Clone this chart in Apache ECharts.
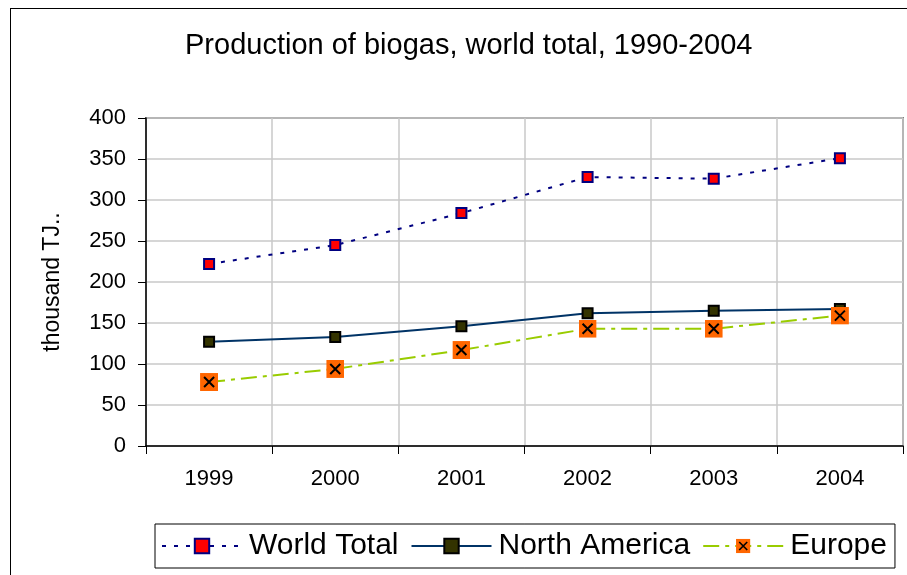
<!DOCTYPE html>
<html>
<head>
<meta charset="utf-8">
<script src="https://cdn.jsdelivr.net/npm/echarts@6/dist/echarts.min.js"></script>
<style>
  html, body { margin: 0; padding: 0; background: #fff; }
  #frame { position: absolute; left: 10px; top: 8px; width: 920px; height: 600px; border: 1px solid #000; box-sizing: border-box; }
  #main { position: absolute; left: 0; top: 0; width: 907px; height: 575px; }
</style>
</head>
<body>
<div id="frame"></div>
<div id="main"></div>
<script>
// data
var years = ['1999', '2000', '2001', '2002', '2003', '2004'];
var worldTotal = [222, 245, 284, 328, 326, 351];
var northAmerica = [127, 133, 146, 162, 165, 167];
var europe = [78, 94, 117, 143, 143, 159];

// orange square with a black cross for Europe
var crossSvg = '<svg xmlns="http://www.w3.org/2000/svg" width="18" height="18">' +
    '<rect x="0" y="0" width="18" height="18" fill="#ff6600"/>' +
    '<path d="M4 4 L14 14 M14 4 L4 14" stroke="#000" stroke-width="2"/></svg>';
var crossSymbol = 'image://data:image/svg+xml;charset=utf-8,' + encodeURIComponent(crossSvg);

var myChart = echarts.init(document.getElementById('main'));
var font = 'Liberation Sans, Arial, sans-serif';

myChart.setOption({
    backgroundColor: 'transparent',
    animation: false,
    title: {
        text: 'Production of biogas, world total, 1990-2004',
        left: 180,
        top: 26,
        textStyle: { fontFamily: font, fontSize: 29, fontWeight: 'normal', color: '#000' }
    },
    grid: {
        left: 146, top: 118, right: 4, bottom: 129,
        show: true, borderColor: '#808080', borderWidth: 2, backgroundColor: '#fff'
    },
    legend: {
        left: 155,
        top: 524,
        padding: [7, 8, 7, 6],
        borderColor: '#000',
        borderWidth: 1,
        itemWidth: 80,
        itemHeight: 18,
        itemGap: 12,
        textStyle: { fontFamily: font, fontSize: 30, color: '#000', padding: [0, 0, 0, 2] },
        data: ['World Total', 'North America', 'Europe']
    },
    xAxis: {
        type: 'category',
        data: years,
        boundaryGap: true,
        axisLine: { lineStyle: { color: '#000', width: 1.5 } },
        axisTick: { show: true, length: 8, lineStyle: { color: '#000' } },
        axisLabel: { fontFamily: font, fontSize: 22, color: '#000', margin: 22 },
        splitLine: { show: true, lineStyle: { color: '#c8c8c8', width: 1.5 } }
    },
    yAxis: {
        type: 'value',
        min: 0, max: 400, interval: 50,
        name: 'thousand TJ..',
        nameLocation: 'middle',
        nameGap: 82,
        nameTextStyle: { fontFamily: font, fontSize: 23, color: '#000' },
        axisLine: { show: true, lineStyle: { color: '#000', width: 1.5 } },
        axisTick: { show: true, inside: false, length: 8, lineStyle: { color: '#000' } },
        axisLabel: { fontFamily: font, fontSize: 22, color: '#000', margin: 20 },
        splitLine: { show: true, lineStyle: { color: '#c8c8c8', width: 1.5 } }
    },
    series: [
        {
            name: 'World Total',
            type: 'line',
            data: worldTotal,
            symbol: 'rect',
            symbolSize: 10,
            lineStyle: { color: '#000080', width: 2, type: [4, 8] },
            itemStyle: { color: '#ff0000', borderColor: '#000080', borderWidth: 2 }
        },
        {
            name: 'North America',
            type: 'line',
            data: northAmerica,
            symbol: 'rect',
            symbolSize: 10,
            lineStyle: { color: '#003366', width: 2, type: 'solid' },
            itemStyle: { color: '#333300', borderColor: '#000', borderWidth: 2 }
        },
        {
            name: 'Europe',
            type: 'line',
            data: europe,
            symbol: crossSymbol,
            symbolSize: 18,
            lineStyle: { color: '#99cc00', width: 2, type: [16, 6, 4, 6] },
            itemStyle: { color: '#ff6600' }
        }
    ]
});
</script>
</body>
</html>
